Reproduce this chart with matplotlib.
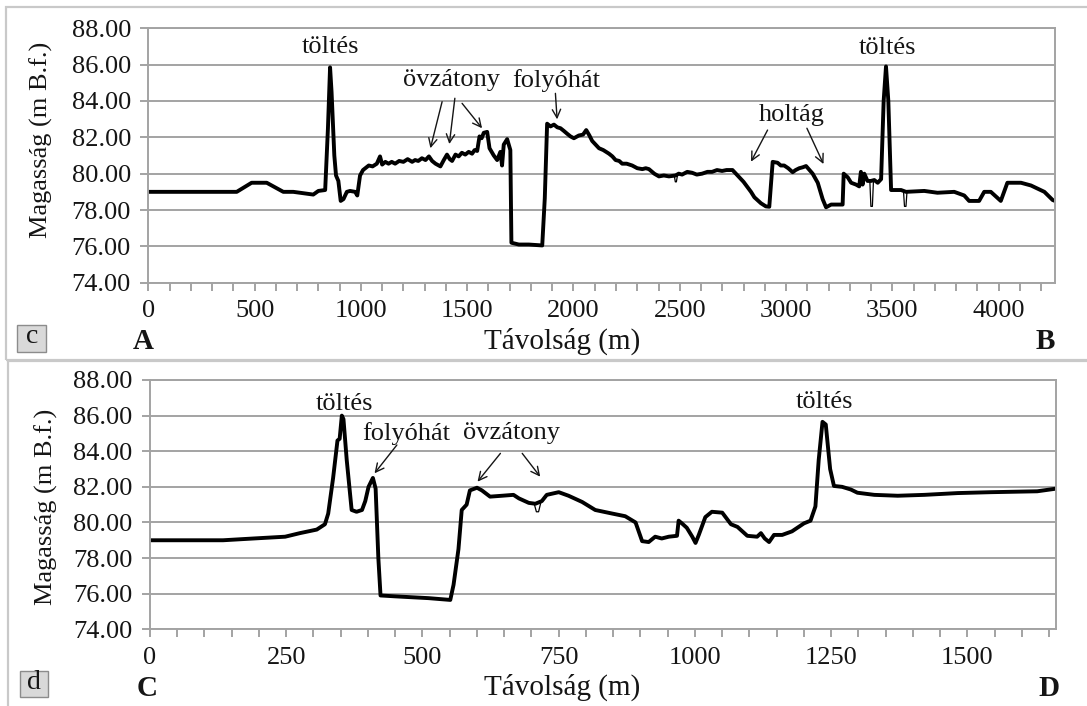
import matplotlib
matplotlib.use("Agg")
import matplotlib.pyplot as plt
from matplotlib.patches import Rectangle

plt.rcParams['font.family'] = ['Liberation Serif', 'DejaVu Serif']

# ---- Profile c: A -> B ----
top_x = [0, 416, 486, 557, 635, 682, 776, 800, 832, 845, 855, 862, 875, 883, 894, 905, 918,
         934, 949, 973, 983, 996, 1010, 1037, 1055, 1075, 1090, 1100, 1115, 1130, 1145, 1161,
         1180, 1200, 1220, 1241, 1255, 1270, 1287, 1304, 1320, 1335, 1351, 1374, 1390, 1405,
         1418, 1429, 1445, 1460, 1475, 1491, 1507, 1523, 1535, 1547, 1558, 1568, 1578, 1594,
         1605, 1625, 1641, 1656, 1664, 1672, 1688, 1703, 1708, 1743, 1790, 1853, 1865, 1876,
         1892, 1908, 1924, 1939, 1955, 1970, 1986, 2002, 2025, 2045, 2060, 2075, 2088, 2104,
         2120, 2140, 2167, 2183, 2198, 2215, 2229, 2250, 2276, 2300, 2324, 2340, 2355, 2380,
         2402, 2425, 2449, 2480, 2495, 2511, 2535, 2558, 2580, 2605, 2630, 2652, 2675, 2699,
         2720, 2748, 2780, 2800, 2819, 2835, 2851, 2865, 2882, 2905, 2921, 2937, 2960, 2975,
         2991, 3010, 3031, 3045, 3062, 3078, 3094, 3110, 3125, 3149, 3172, 3188, 3212, 3266,
         3271, 3290, 3306, 3329, 3344, 3352, 3360, 3368, 3383, 3399, 3415, 3431, 3447, 3459,
         3470, 3481, 3494, 3525, 3541, 3564, 3650, 3712, 3791, 3838, 3861, 3908, 3932, 3963,
         4010, 4041, 4105, 4152, 4215, 4254, 4265]
top_y = [79.0, 79.0, 79.5, 79.5, 79.0, 79.0, 78.85, 79.05, 79.1, 82.5, 85.85, 84.5, 81.0, 79.9,
         79.6, 78.5, 78.6, 79.0, 79.05, 79.0, 78.8, 79.9, 80.2, 80.45, 80.4, 80.55, 80.95, 80.5,
         80.65, 80.55, 80.65, 80.55, 80.7, 80.65, 80.8, 80.65, 80.75, 80.7, 80.85, 80.75, 80.95,
         80.7, 80.55, 80.4, 80.75, 81.05, 80.8, 80.7, 81.05, 80.95, 81.15, 81.05, 81.2, 81.1,
         81.3, 81.25, 82.05, 81.95, 82.25, 82.3, 81.4, 81.0, 80.75, 81.2, 80.45, 81.6, 81.9, 81.3,
         76.2, 76.1, 76.1, 76.05, 78.65, 82.75, 82.6, 82.7, 82.55, 82.5, 82.35, 82.2, 82.05, 81.95,
         82.1, 82.15, 82.4, 82.1, 81.8, 81.6, 81.4, 81.3, 81.1, 80.95, 80.75, 80.7, 80.55, 80.55,
         80.45, 80.3, 80.25, 80.3, 80.25, 80.0, 79.85, 79.9, 79.85, 79.9, 80.0, 79.95, 80.1,
         80.05, 79.95, 80.0, 80.1, 80.1, 80.2, 80.15, 80.2, 80.2, 79.8, 79.55, 79.25, 79.0,
         78.7, 78.55, 78.37, 78.2, 78.18, 80.65, 80.6, 80.45, 80.45, 80.3, 80.08, 80.2, 80.3,
         80.35, 80.42, 80.2, 80.0, 79.5, 78.6, 78.15, 78.3, 78.3, 80.0, 79.8, 79.5, 79.4, 79.3,
         80.1, 79.4, 80.0, 79.6, 79.6, 79.65, 79.5, 79.7, 84.0, 85.9, 84.0, 79.1, 79.1, 79.1,
         79.0, 79.05, 78.95, 79.0, 78.8, 78.5, 78.5, 79.0, 79.0, 78.5, 79.5, 79.5, 79.35, 79.0,
         78.55, 78.5]

# narrow dips of the second (thin) survey trace
top_dips = [
    ([2474, 2479, 2484, 2489], [79.9, 79.55, 79.55, 79.9]),
    ([3394, 3399, 3406, 3411], [79.6, 78.2, 78.2, 79.6]),
    ([3552, 3557, 3564, 3569], [79.1, 78.2, 78.2, 79.05]),
]

# ---- Profile d: C -> D ----
bot_x = [0, 134, 190, 248, 275, 306, 321, 327, 336, 344, 348, 352, 355, 361, 370, 379, 389,
         395, 401, 409, 414, 419, 423, 450, 511, 551, 557, 566, 572, 581, 587, 600, 609, 624,
         646, 667, 677, 695, 707, 719, 728, 750, 768, 793, 817, 848, 872, 891, 903, 915, 927,
         939, 952, 967, 970, 976, 985, 995, 1001, 1007, 1019, 1031, 1050, 1066, 1078, 1096,
         1114, 1121, 1128, 1136, 1145, 1160, 1178, 1200, 1212, 1221, 1227, 1234, 1240, 1248,
         1255, 1270, 1286, 1298, 1329, 1372, 1421, 1482, 1543, 1628, 1663]
bot_y = [79.0, 79.0, 79.1, 79.2, 79.4, 79.6, 79.9, 80.5, 82.5, 84.6, 84.7, 86.0, 85.8, 83.5,
         80.7, 80.6, 80.7, 81.2, 82.0, 82.5, 81.9, 78.0, 75.9, 75.85, 75.75, 75.65, 76.5, 78.5,
         80.7, 81.0, 81.8, 81.95, 81.8, 81.45, 81.5, 81.55, 81.35, 81.1, 81.05, 81.2, 81.55,
         81.7, 81.5, 81.15, 80.7, 80.5, 80.35, 80.0, 78.95, 78.9, 79.2, 79.1, 79.2, 79.25, 80.1,
         79.95, 79.7, 79.2, 78.85, 79.3, 80.3, 80.6, 80.55, 79.9, 79.75, 79.25, 79.2, 79.4, 79.1,
         78.9, 79.3, 79.3, 79.5, 79.95, 80.1, 80.9, 83.5, 85.65, 85.5, 83.0, 82.05, 82.0, 81.85,
         81.67, 81.55, 81.5, 81.55, 81.65, 81.7, 81.75, 81.9]

bot_dips = [
    ([705, 709, 713, 717], [81.05, 80.6, 80.6, 81.1]),
]

y_ticks = [74, 76, 78, 80, 82, 84, 86, 88]
y_ticklabels = ["74.00", "76.00", "78.00", "80.00", "82.00", "84.00", "86.00", "88.00"]

top_major = [0, 500, 1000, 1500, 2000, 2500, 3000, 3500, 4000]
bot_major = [0, 250, 500, 750, 1000, 1250, 1500]

W, H = 1087, 706
fig = plt.figure(figsize=(W / 100, H / 100), dpi=100)

GRID = "#a3a3a3"
INK = "#151515"
FS = 19


def px_axes(left, top, right, bottom):
    return fig.add_axes([left / W, 1 - bottom / H, (right - left) / W, (bottom - top) / H])


def style(ax, xmax, major, minor_step):
    ax.set_xlim(0, xmax)
    ax.set_ylim(74, 88)
    ax.set_yticks(y_ticks)
    ax.set_yticklabels(y_ticklabels)
    ax.set_xticks(major)
    ax.set_xticklabels([str(v) for v in major])
    minors = [v for v in range(0, int(xmax) + 1, minor_step) if v not in major]
    ax.set_xticks(minors, minor=True)
    ax.yaxis.grid(True, color=GRID, lw=1.4)
    ax.set_axisbelow(True)
    for s in ax.spines.values():
        s.set_color(GRID)
        s.set_linewidth(1.4)
    ax.tick_params(axis='both', which='both', colors=GRID, labelcolor=INK,
                   labelsize=FS, length=5.5, width=1.4, direction='out', pad=7)
    ax.tick_params(axis='y', pad=7)


def note(ax, text, xy):
    ax.text(xy[0], xy[1], text, ha='center', va='center', fontsize=FS, color=INK)


def arrow(ax, start, end):
    ax.annotate("", xy=end, xytext=start,
                arrowprops=dict(arrowstyle="->", color=INK, lw=1.0,
                                mutation_scale=15, shrinkA=0, shrinkB=0))


# panel frames
fig.patches.append(Rectangle((6 / W, 1 - 359.5 / H), 1.0, (359.5 - 7) / H,
                             transform=fig.transFigure, fill=False, ec="#c9c9c9", lw=1.6))
fig.patches.append(Rectangle((7.7 / W, -0.05), 1.0, 1 - 361.5 / H + 0.05,
                             transform=fig.transFigure, fill=False, ec="#c9c9c9", lw=1.6))

# ---- top panel ----
ax1 = px_axes(148.3, 28.3, 1055, 282.7)
style(ax1, 4265, top_major, 100)
ax1.plot(top_x, top_y, color="black", lw=2.8, solid_joinstyle='round')
for dx, dy in top_dips:
    ax1.plot(dx, dy, color="black", lw=0.9)
note(ax1, "töltés", (855, 86.95))
note(ax1, "töltés", (3478, 86.9))
note(ax1, "övzátony", (1424, 85.15))
note(ax1, "folyóhát", (1919, 85.15))
note(ax1, "holtág", (3026, 83.25))
arrow(ax1, (1382, 83.96), (1327, 81.4))
arrow(ax1, (1442, 84.15), (1416, 81.63))
arrow(ax1, (1476, 83.87), (1570, 82.5))
arrow(ax1, (1915, 84.42), (1923, 82.99))
arrow(ax1, (2913, 82.4), (2835, 80.66))
arrow(ax1, (3098, 82.5), (3176, 80.53))

# ---- bottom panel ----
ax2 = px_axes(150, 380, 1056.3, 629.3)
style(ax2, 1663, bot_major, 50)
ax2.plot(bot_x, bot_y, color="black", lw=2.8, solid_joinstyle='round')
for dx, dy in bot_dips:
    ax2.plot(dx, dy, color="black", lw=0.9)
note(ax2, "töltés", (356, 86.65))
note(ax2, "folyóhát", (470, 85.0))
note(ax2, "övzátony", (664, 85.0))
note(ax2, "töltés", (1238, 86.78))
arrow(ax2, (453, 84.35), (412, 82.76))
arrow(ax2, (643, 83.88), (601, 82.29))
arrow(ax2, (683, 83.88), (716, 82.57))


def ftext(x, y, s, **kw):
    fig.text(x / W, 1 - y / H, s, ha='center', va='center', color=INK, **kw)


# axis titles
ftext(41.7, 140, "Magasság (m B.f.)", fontsize=FS, rotation=90)
ftext(46.7, 506.7, "Magasság (m B.f.)", fontsize=FS, rotation=90)
ftext(562, 341, "Távolság (m)", fontsize=21)
ftext(562, 687, "Távolság (m)", fontsize=21)

# end-point letters
ftext(143.3, 341.5, "A", fontsize=21, fontweight='bold')
ftext(1045, 341.5, "B", fontsize=21, fontweight='bold')
ftext(146.7, 688, "C", fontsize=21, fontweight='bold')
ftext(1049, 688, "D", fontsize=21, fontweight='bold')

# panel letters in small grey boxes
for (l, t, r, b), letter in [((17.3, 325, 46, 351.7), "c"), ((20, 670.7, 48.3, 696.7), "d")]:
    fig.patches.append(Rectangle((l / W, 1 - b / H), (r - l) / W, (b - t) / H,
                                 transform=fig.transFigure, fc="#d9d9d9", ec="#8c8c8c", lw=1.0))
    ftext((l + r) / 2, (t + b) / 2 - 1.5, letter, fontsize=20)

fig.savefig("out.png", dpi=100, facecolor="white")
